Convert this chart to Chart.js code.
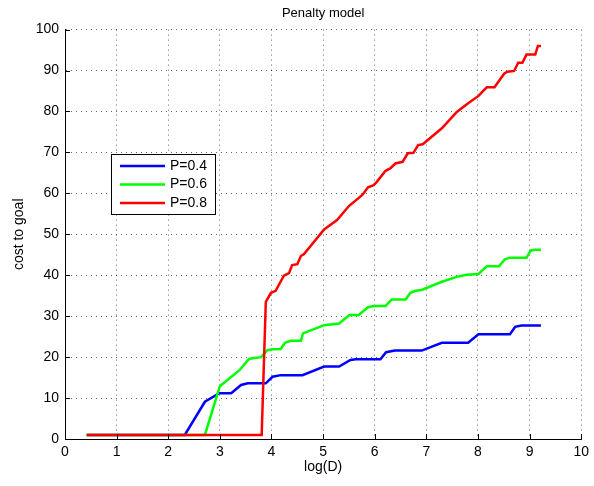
<!DOCTYPE html>
<html lang="en">
<head>
  <meta charset="UTF-8">
  <title>Penalty model</title>
  <script src="https://cdn.jsdelivr.net/npm/chart.js"></script>
  <style>
    body {
      margin: 0;
      background: #fff;
    }
    #wrap {
      width: 594px;
      height: 486px;
    }
  </style>
</head>
<body>
  <div id="wrap">
    <canvas id="penaltyChart" width="594" height="486"></canvas>
  </div>

  <script>
    // values, x = log(D), y = cost to goal
    const xTicks = [0, 1, 2, 3, 4, 5, 6, 7, 8, 9, 10];
    const yTicks = [0, 10, 20, 30, 40, 50, 60, 70, 80, 90, 100];

    const p04X = [0.42, 2.32, 2.71, 2.99, 3.22, 3.41, 3.54, 3.89, 4.02, 4.18, 4.60, 5.02, 5.31, 5.53, 5.63, 6.11, 6.22, 6.39, 6.91, 7.30, 7.81, 8.01, 8.62, 8.72, 8.84, 9.22];
    const p04Y = [1, 1, 9.1, 11.2, 11.2, 13.2, 13.6, 13.6, 15.2, 15.6, 15.6, 17.7, 17.7, 19.3, 19.5, 19.5, 21.2, 21.6, 21.6, 23.5, 23.5, 25.6, 25.6, 27.4, 27.7, 27.7];

    const p06X = [0.42, 2.71, 3.00, 3.38, 3.56, 3.63, 3.80, 3.92, 4.02, 4.18, 4.26, 4.37, 4.57, 4.61, 5.02, 5.31, 5.51, 5.69, 5.87, 5.98, 6.21, 6.33, 6.60, 6.69, 6.79, 6.91, 7.30, 7.59, 7.78, 8.01, 8.17, 8.41, 8.52, 8.62, 8.94, 9.02, 9.10, 9.22];
    const p06Y = [1, 1, 12.9, 16.8, 19.5, 19.7, 20.0, 21.7, 21.9, 22.0, 23.5, 24.0, 24.0, 25.8, 27.8, 28.2, 30.3, 30.3, 32.2, 32.5, 32.5, 34.1, 34.1, 35.7, 36.2, 36.4, 38.4, 39.6, 40.1, 40.3, 42.2, 42.2, 43.9, 44.3, 44.3, 46.0, 46.2, 46.2];

    const p08X = [0.42, 3.81, 3.89, 3.99, 4.08, 4.24, 4.34, 4.40, 4.50, 4.57, 4.63, 5.02, 5.27, 5.50, 5.76, 5.87, 5.98, 6.04, 6.21, 6.30, 6.40, 6.54, 6.64, 6.75, 6.84, 6.93, 7.30, 7.59, 7.81, 8.01, 8.17, 8.32, 8.51, 8.57, 8.70, 8.78, 8.86, 8.94, 9.11, 9.16, 9.22];
    const p08Y = [1, 1, 33.5, 35.7, 36.2, 39.9, 40.5, 42.5, 42.7, 44.7, 45.2, 51.2, 53.5, 56.9, 59.6, 61.5, 62.0, 62.8, 65.5, 66.1, 67.3, 67.7, 69.8, 69.9, 71.8, 72.0, 75.9, 79.9, 82.0, 83.8, 85.9, 85.9, 89.3, 89.7, 89.9, 91.9, 91.9, 93.9, 93.9, 96.0, 96.0];

    const seriesLabels = ["P=0.4", "P=0.6", "P=0.8"];
    const seriesColors = ["#0000ff", "#00ff00", "#ff0000"];

    function toPoints(xs, ys) {
      return xs.map((x, i) => ({ x: x, y: ys[i] }));
    }

    const font = "'Liberation Sans', Arial, sans-serif";

    // inward tick marks, matlab style
    const innerTicks = {
      id: 'innerTicks',
      afterDraw(chart) {
        const ctx = chart.ctx;
        const xs = chart.scales.x, ys = chart.scales.y;
        const a = chart.chartArea;
        ctx.save();
        ctx.strokeStyle = '#000';
        ctx.lineWidth = 1;
        ctx.beginPath();
        xTicks.forEach(v => {
          const px = Math.round(xs.getPixelForValue(v)) + 0.5;
          ctx.moveTo(px, a.bottom);
          ctx.lineTo(px, a.bottom - 5);
        });
        yTicks.forEach(v => {
          const py = Math.round(ys.getPixelForValue(v)) + 0.5;
          ctx.moveTo(a.left, py);
          ctx.lineTo(a.left + 5, py);
        });
        ctx.stroke();
        ctx.restore();
      }
    };

    // legend box sitting inside the axes
    const boxLegend = {
      id: 'boxLegend',
      afterDraw(chart) {
        const ctx = chart.ctx;
        const left = 111.5, top = 154.5, w = 104, h = 60;
        ctx.save();
        ctx.fillStyle = '#fff';
        ctx.fillRect(left, top, w, h);
        ctx.strokeStyle = '#000';
        ctx.lineWidth = 1;
        ctx.strokeRect(left, top, w, h);
        ctx.font = '14px ' + font;
        ctx.textBaseline = 'middle';
        seriesLabels.forEach((label, i) => {
          const y = 166 + i * 18.5;
          ctx.strokeStyle = seriesColors[i];
          ctx.lineWidth = 2.5;
          ctx.beginPath();
          ctx.moveTo(120, y);
          ctx.lineTo(165, y);
          ctx.stroke();
          ctx.fillStyle = '#000';
          ctx.fillText(label, 170, y);
        });
        ctx.restore();
      }
    };

    const datasets = [
      { label: seriesLabels[0], data: toPoints(p04X, p04Y), order: 2 },
      { label: seriesLabels[1], data: toPoints(p06X, p06Y), order: 1 },
      { label: seriesLabels[2], data: toPoints(p08X, p08Y), order: 0 }
    ].map((d, i) => Object.assign(d, {
      borderColor: seriesColors[i],
      backgroundColor: seriesColors[i],
      borderWidth: 2.5,
      pointRadius: 0,
      tension: 0,
      fill: false
    }));

    const gridOpts = {
      color: 'rgba(0,0,0,0.6)',
      lineWidth: 1,
      drawTicks: false
    };

    new Chart(document.getElementById('penaltyChart'), {
      type: 'line',
      data: { datasets: datasets },
      options: {
        responsive: false,
        animation: false,
        layout: { padding: { left: 0, right: 11, top: 0, bottom: 0 } },
        plugins: {
          legend: { display: false },
          tooltip: { enabled: false },
          title: {
            display: true,
            text: 'Penalty model',
            fullSize: false,
            color: '#000',
            font: { family: font, size: 13, weight: 'normal' },
            padding: { top: 6, bottom: 8 }
          }
        },
        scales: {
          x: {
            type: 'linear',
            min: 0,
            max: 10,
            afterBuildTicks: s => { s.ticks = xTicks.map(v => ({ value: v })); },
            afterFit: s => { s.height = 47; },
            grid: gridOpts,
            border: { display: true, color: '#000', width: 1, dash: [1, 4] },
            ticks: { color: '#000', padding: 5, font: { family: font, size: 14 } },
            title: {
              display: true,
              text: 'log(D)',
              color: '#000',
              font: { family: font, size: 14 },
              padding: { top: 0, bottom: 10 }
            }
          },
          y: {
            type: 'linear',
            min: 0,
            max: 100,
            afterBuildTicks: s => { s.ticks = yTicks.map(v => ({ value: v })); },
            afterFit: s => { s.width = 65; },
            grid: gridOpts,
            border: { display: true, color: '#000', width: 1, dash: [1, 4] },
            ticks: { color: '#000', padding: 6, font: { family: font, size: 14 } },
            title: {
              display: true,
              text: 'cost to goal',
              color: '#000',
              font: { family: font, size: 14 },
              padding: { top: 11, bottom: 0 }
            }
          }
        }
      },
      plugins: [innerTicks, boxLegend]
    });
  </script>
</body>
</html>
